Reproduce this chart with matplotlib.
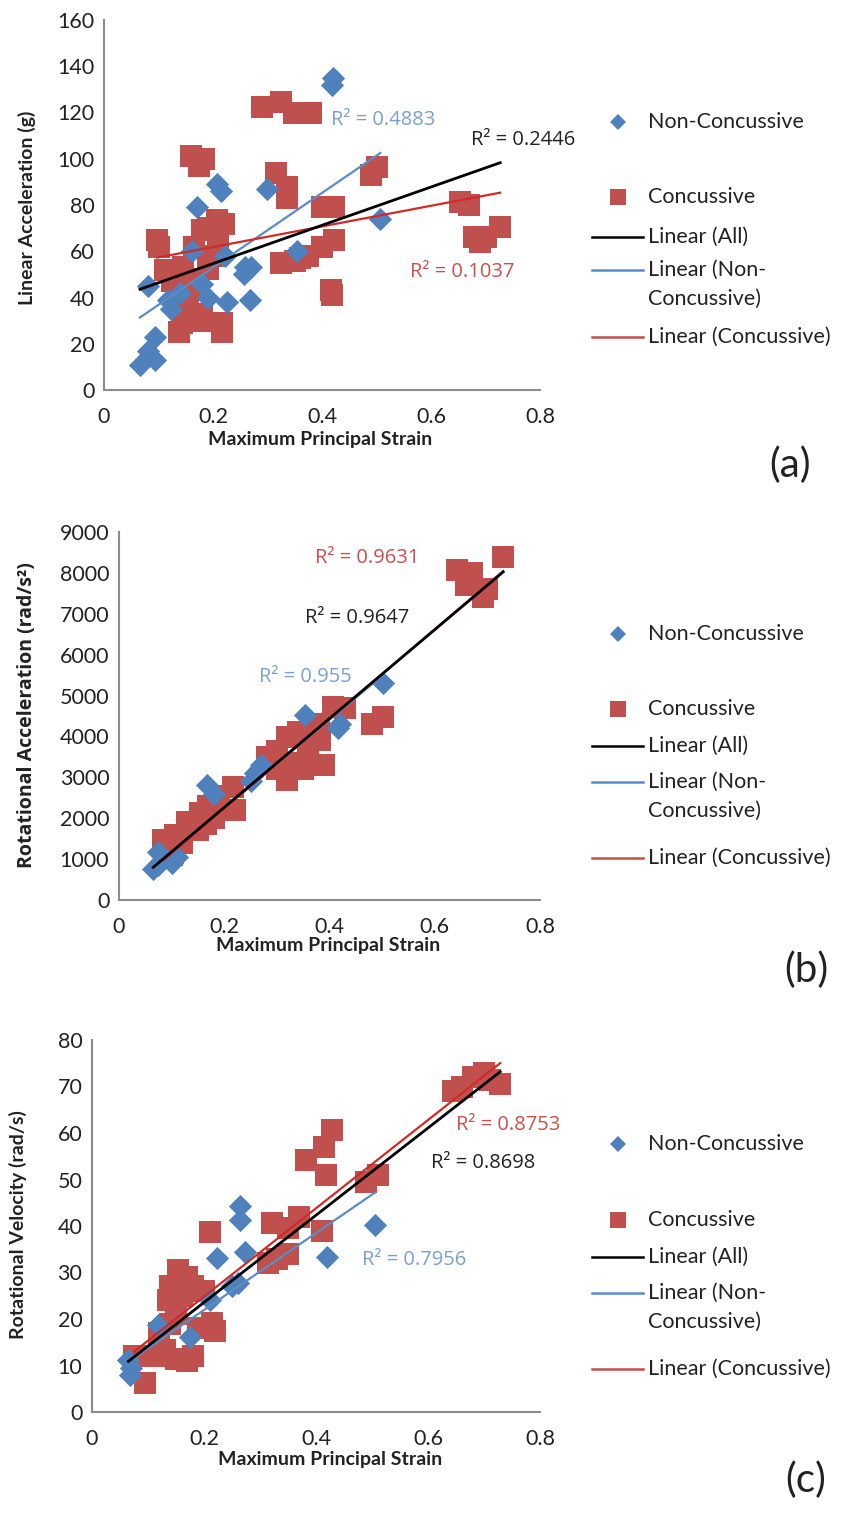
import matplotlib
matplotlib.use("Agg")
import matplotlib.pyplot as plt
from matplotlib.lines import Line2D
import numpy as np

plt.rcParams['font.family'] = ['Lato', 'DejaVu Sans']

W, H = 843, 1515

# ---- panel (a): linear acceleration (g) ----
a_non_x = [0.420, 0.418, 0.208, 0.215, 0.299, 0.170, 0.507, 0.161, 0.222, 0.259, 0.270, 0.256,
           0.081, 0.118, 0.123, 0.225, 0.268, 0.190, 0.094, 0.081, 0.066, 0.094, 0.355, 0.140, 0.180]
a_non_y = [135, 132, 89, 86, 87, 79, 74, 60, 58, 53, 53, 50,
           45, 39, 35, 38, 39, 40, 23, 17, 11, 13, 60, 42, 46]
a_con_x = [0.290, 0.324, 0.348, 0.379, 0.159, 0.184, 0.175, 0.315, 0.336, 0.335, 0.501, 0.490,
           0.422, 0.400, 0.654, 0.670, 0.678, 0.727, 0.690, 0.098, 0.100, 0.208, 0.190, 0.220,
           0.180, 0.210, 0.422, 0.400, 0.324, 0.350, 0.375, 0.416, 0.418, 0.112, 0.145, 0.190,
           0.170, 0.160, 0.143, 0.138, 0.176, 0.216, 0.216, 0.180, 0.700, 0.360, 0.125, 0.155,
           0.200, 0.165]
a_con_y = [122.5, 124.7, 120, 120, 101, 100, 97, 93.7, 88, 83, 96.6, 93,
           79.3, 79, 81.4, 80, 66.3, 70.6, 64, 64.9, 62, 73.5, 70, 72,
           69, 65, 64.9, 62, 54.8, 56, 58, 43.2, 41, 51.9, 53, 52.5,
           48, 44, 28.8, 25, 30, 28.8, 25, 33, 66, 57, 47, 36,
           58, 62]
# trend lines (slope, intercept): all, non-concussive, concussive
a_fit = {'all': (82.8, 38.1), 'non': (161.3, 20.7), 'con': (44.6, 52.9)}
a_r2 = {'all': 'R² = 0.2446', 'non': 'R² = 0.4883', 'con': 'R² = 0.1037'}
a_r2_pos = {'all': (0.769, 108), 'non': (0.512, 116.8), 'con': (0.657, 51)}

# ---- panel (b): rotational acceleration (rad/s^2) ----
b_non_x = [0.065, 0.075, 0.075, 0.100, 0.167, 0.180, 0.258, 0.250, 0.270, 0.353, 0.417, 0.502, 0.420, 0.110]
b_non_y = [750, 850, 1180, 900, 2810, 2600, 3100, 2900, 3300, 4520, 4200, 5300, 4300, 1050]
b_con_x = [0.084, 0.094, 0.107, 0.100, 0.130, 0.154, 0.170, 0.190, 0.217, 0.220, 0.150, 0.180, 0.200,
           0.281, 0.300, 0.319, 0.319, 0.330, 0.350, 0.360, 0.382, 0.380, 0.407, 0.430, 0.390,
           0.502, 0.480, 0.730, 0.642, 0.670, 0.692, 0.660, 0.700, 0.120, 0.165, 0.340, 0.300]
b_con_y = [1470, 1300, 1600, 1100, 1900, 2120, 2300, 2550, 2770, 2200, 1700, 2000, 2200,
           3500, 3650, 3990, 2940, 3350, 3200, 3700, 3910, 4300, 4730, 4700, 3300,
           4480, 4300, 8400, 8070, 8000, 7420, 7700, 7600, 1400, 1850, 4100, 3200]
b_fit = {'all': (10864, 93), 'non': (10750, 110), 'con': (10950, 50)}
b_r2 = {'all': 'R² = 0.9647', 'non': 'R² = 0.955', 'con': 'R² = 0.9631'}
b_r2_pos = {'all': (0.452, 6897), 'non': (0.355, 5454), 'con': (0.471, 8364)}

# ---- panel (c): rotational velocity (rad/s) ----
c_non_x = [0.264, 0.264, 0.223, 0.273, 0.419, 0.261, 0.118, 0.175, 0.065, 0.070, 0.068, 0.210, 0.505, 0.250]
c_non_y = [44.2, 41.3, 33.1, 34.5, 33.4, 27.7, 18.7, 16.2, 11.2, 9.5, 8.0, 24, 40.2, 27]
c_con_x = [0.428, 0.414, 0.383, 0.418, 0.490, 0.510, 0.211, 0.321, 0.350, 0.370, 0.410,
           0.315, 0.330, 0.350, 0.154, 0.170, 0.140, 0.180, 0.135, 0.160, 0.200,
           0.214, 0.220, 0.190, 0.120, 0.130, 0.150, 0.170, 0.180, 0.095, 0.110,
           0.645, 0.680, 0.700, 0.729, 0.660, 0.710, 0.075, 0.150, 0.140]
c_con_y = [60.6, 57, 54.2, 51, 49.5, 51, 38.8, 40.6, 39.5, 42, 39,
           32, 33, 34, 30.5, 29, 27, 27, 24, 25, 26,
           19.1, 17.5, 18, 17, 13.3, 11.5, 11, 12, 6.2, 12,
           69, 72, 73, 70.5, 70, 71.5, 12, 21, 19]
c_fit = {'all': (93.8, 4.8), 'non': (82.7, 5.4), 'con': (94.9, 5.85)}
c_r2 = {'all': 'R² = 0.8698', 'non': 'R² = 0.7956', 'con': 'R² = 0.8753'}
c_r2_pos = {'all': (0.698, 53.5), 'non': (0.575, 32.7), 'con': (0.743, 61.7)}

BLUE = '#4F81BD'
RED = '#C0504D'
LINE_COL = {'all': 'black', 'non': '#5B8CC6', 'con': '#D02A2A'}
R2_COL = {'all': '#222222', 'non': '#7BA0CC', 'con': '#C9504F'}
SPINE = '#8C8C8C'


def px_box(left, top, right, bottom):
    return [left / W, 1 - bottom / H, (right - left) / W, (bottom - top) / H]


def draw_panel(fig, box, non_x, non_y, con_x, con_y, fit, r2, r2_pos, ymax, ystep, ylabel,
               ylab_xy, xlab_xy):
    ax = fig.add_axes(px_box(*box))
    ax.scatter(non_x, non_y, marker='D', s=140, color=BLUE, linewidths=0, zorder=3)
    ax.scatter(con_x, con_y, marker='s', s=250, color=RED, linewidths=0, zorder=2)

    all_x = non_x + con_x
    ranges = {'all': all_x, 'non': non_x, 'con': con_x}
    for key in ['non', 'con', 'all']:
        xs = np.array([min(ranges[key]), max(ranges[key])])
        m, b = fit[key]
        lw = 2.0 if key == 'all' else 1.6
        ax.plot(xs, m * xs + b, color=LINE_COL[key], lw=lw, zorder=4)
    for key in ['all', 'non', 'con']:
        ax.text(r2_pos[key][0], r2_pos[key][1], r2[key], color=R2_COL[key], fontsize=14.5,
                family=['Open Sans', 'DejaVu Sans'], ha='center', va='center',
                clip_on=False, zorder=5)

    ax.set_xlim(0, 0.8)
    ax.set_ylim(0, ymax)
    ax.set_xticks(np.arange(0, 0.81, 0.2))
    ax.set_xticklabels(['0', '0.2', '0.4', '0.6', '0.8'])
    yt = np.arange(0, ymax + 1, ystep)
    ax.set_yticks(yt)
    ax.set_yticklabels(['%d' % v for v in yt])
    ax.tick_params(length=0, labelsize=15.5, colors='#222222')
    ax.tick_params(axis='x', pad=12)
    ax.tick_params(axis='y', pad=7)
    for s in ['top', 'right']:
        ax.spines[s].set_visible(False)
    for s in ['left', 'bottom']:
        ax.spines[s].set_color(SPINE)
        ax.spines[s].set_linewidth(1.5)

    fig.text(xlab_xy[0] / W, 1 - xlab_xy[1] / H, 'Maximum Principal Strain', fontsize=14,
             fontweight='bold', ha='center', va='center', color='#222222')
    fig.text(ylab_xy[0] / W, 1 - ylab_xy[1] / H, ylabel, fontsize=14, fontweight='bold',
             family=['Open Sans', 'DejaVu Sans'] if '²' in ylabel else None,
             rotation=90, ha='center', va='center', color='#222222')
    return ax


def draw_legend(fig, ys):
    # ys: pixel rows for Non-Concussive, Concussive, Linear(All), Linear(Non- / Concussive), Linear(Concussive)
    def fx(p):
        return p / W

    def fy(p):
        return 1 - p / H

    fig.add_artist(Line2D([fx(618)], [fy(ys[0])], marker='D', markersize=8, color=BLUE,
                          markeredgewidth=0, transform=fig.transFigure))
    fig.add_artist(Line2D([fx(618)], [fy(ys[1])], marker='s', markersize=11, color=RED,
                          markeredgewidth=0, transform=fig.transFigure))
    for y, c in [(ys[2], 'black'), (ys[3], '#5B8CC6'), (ys[5], '#C0504D')]:
        fig.add_artist(Line2D([fx(592), fx(643)], [fy(y), fy(y)], color=c, lw=1.8,
                              transform=fig.transFigure))
    labels = ['Non-Concussive', 'Concussive', 'Linear (All)', 'Linear (Non-', 'Concussive)',
              'Linear (Concussive)']
    for y, t in zip(ys, labels):
        fig.text(fx(648), fy(y), t, fontsize=15.5, ha='left', va='center', color='#222222')


fig = plt.figure(figsize=(W / 100, H / 100), dpi=100)

draw_panel(fig, (104, 20, 540, 390), a_non_x, a_non_y, a_con_x, a_con_y, a_fit, a_r2, a_r2_pos,
           160, 20, 'Linear Acceleration (g)', (27, 208), (320, 439))
draw_legend(fig, [122, 197, 237, 270, 299, 337])
fig.text(790 / W, 1 - 465 / H, '(a)', fontsize=29, ha='center', va='center', color='#222222')

draw_panel(fig, (119, 532, 540, 900), b_non_x, b_non_y, b_con_x, b_con_y, b_fit, b_r2, b_r2_pos,
           9000, 1000, 'Rotational Acceleration (rad/s²)', (27, 715), (328, 946))
draw_legend(fig, [634, 709, 746, 782, 811, 858])
fig.text(806 / W, 1 - 970 / H, '(b)', fontsize=29, ha='center', va='center', color='#222222')

draw_panel(fig, (92, 1040, 540, 1412), c_non_x, c_non_y, c_con_x, c_con_y, c_fit, c_r2, c_r2_pos,
           80, 10, 'Rotational Velocity (rad/s)', (18, 1225), (330, 1459))
draw_legend(fig, [1144, 1220, 1257, 1293, 1322, 1369])
fig.text(806 / W, 1 - 1480 / H, '(c)', fontsize=29, ha='center', va='center', color='#222222')

fig.savefig('out.png', dpi=100)
